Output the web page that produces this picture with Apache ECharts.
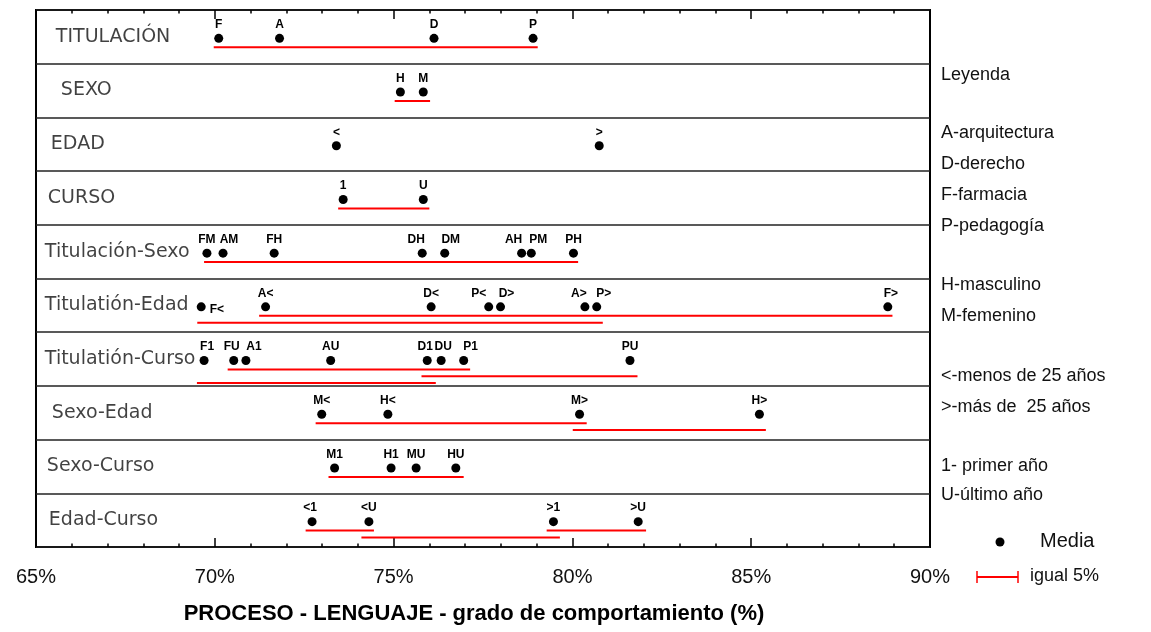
<!DOCTYPE html>
<html>
<head>
<meta charset="utf-8">
<script src="https://cdn.jsdelivr.net/npm/echarts@6/dist/echarts.min.js"></script>
<style>html,body{margin:0;padding:0;background:#fff;}#c{width:1151px;height:632px;}</style>
</head>
<body>
<div id="c"></div>
<script>
// ---------- DATA ----------
const rowNames = ['TITULACIÓN','SEXO','EDAD','CURSO','Titulación-Sexo','Titulatión-Edad','Titulatión-Curso','Sexo-Edad','Sexo-Curso','Edad-Curso'];
const groupLabels = [
  ['F','A','D','P'],
  ['H','M'],
  ['<','>'],
  ['1','U'],
  ['FM','AM','FH','DH','DM','AH','PM','PH'],
  ['F<','A<','D<','P<','D>','A>','P>','F>'],
  ['F1','FU','A1','AU','D1','DU','P1','PU'],
  ['M<','H<','M>','H>'],
  ['M1','H1','MU','HU'],
  ['<1','<U','>1','>U']
];
const groupMeans = [
  [70.11, 71.81, 76.13, 78.90],
  [75.19, 75.83],
  [73.40, 80.75],
  [73.59, 75.83],
  [69.78, 70.23, 71.66, 75.80, 76.43, 78.58, 78.85, 80.03],
  [69.62, 71.42, 76.05, 77.66, 77.99, 80.35, 80.68, 88.82],
  [69.70, 70.53, 70.87, 73.24, 75.94, 76.33, 76.96, 81.61],
  [72.99, 74.84, 80.20, 85.23],
  [73.35, 74.93, 75.63, 76.74],
  [72.72, 74.31, 79.47, 81.84]
];
// homogeneous groups (igual 5%): [row, start, end, level]
const equalRanges = [
  [0, 69.97, 79.03, 0],
  [1, 75.03, 76.02, 0],
  [3, 73.45, 76.00, 0],
  [4, 69.70, 80.16, 0],
  [5, 71.24, 88.95, 0],
  [5, 69.51, 80.85, 1],
  [6, 70.36, 77.14, 0],
  [6, 75.78, 81.82, 1],
  [6, 69.50, 76.18, 2],
  [7, 72.82, 80.40, 0],
  [7, 80.01, 85.41, 1],
  [8, 73.18, 76.96, 0],
  [9, 72.54, 74.45, 0],
  [9, 74.10, 79.65, 1],
  [9, 79.28, 82.06, 0]
];
const xTicks = [65, 70, 75, 80, 85, 90];
const legendLines = ['Leyenda','A-arquitectura','D-derecho','F-farmacia','P-pedagogía','H-masculino','M-femenino','<-menos de 25 años','>-más de  25 años','1- primer año','U-último año'];
const legendMedia = 'Media';
const legendEqual = 'igual 5%';
const xTitle = 'PROCESO - LENGUAJE - grado de comportamiento (%)';

// ---------- STYLE ----------
const rowLabelPad = [19, 24, 14, 11, 8, 8, 8, 15, 10, 12];
const labelShift = {'AM':6,'DH':-6,'DM':6,'AH':-8,'PM':7,'P<':-10,'D>':6,'A>':-6,'P>':7,'F>':3,'F1':3,'FU':-2,'A1':8,'D1':-2,'DU':2,'P1':7,'<1':-2};
const levelOffset = [0.195, 0.322, 0.447];
const dotOffset = 0.028;
const legendY = [75, 133, 164, 195, 226, 285, 316, 376, 407, 466, 495];
const sans = '"Liberation Sans",Arial,sans-serif';

const chart = echarts.init(document.getElementById('c'), null, {renderer: 'canvas'});

const series = [];
// row names
series.push({
  type: 'scatter', silent: true, symbolSize: 1, itemStyle: {color: 'rgba(0,0,0,0)'},
  data: rowNames.map((n, i) => ({value: [65.01, i + 0.5], name: n,
    label: {offset: [rowLabelPad[i], 0]}})),
  label: {show: true, position: 'right', distance: 0, formatter: p => p.name,
    fontFamily: '"DejaVu Sans",sans-serif', fontSize: 19, color: '#111'}
});
// means
groupMeans.forEach((vals, r) => {
  series.push({
    type: 'scatter', silent: true, symbol: 'circle', symbolSize: 9,
    itemStyle: {color: '#000', opacity: 1}, z: 5,
    data: vals.map((v, k) => {
      const lab = groupLabels[r][k];
      const item = {value: [v, r + 0.5 + dotOffset], name: lab};
      if (lab === 'F<') {
        item.label = {position: 'right', distance: 4, offset: [0, 3]};
      } else if (labelShift[lab] !== undefined) {
        item.label = {offset: [labelShift[lab], 0]};
      }
      return item;
    }),
    label: {show: true, position: 'top', distance: 3, formatter: p => p.name,
      fontFamily: sans, fontWeight: 'bold', fontSize: 12, color: '#000'}
  });
});
// equal ranges
equalRanges.forEach(([r, s, e, lvl]) => {
  const y = r + 0.5 + levelOffset[lvl];
  series.push({
    type: 'line', silent: true, symbol: 'none', z: 3,
    lineStyle: {color: '#ff0000', width: 2},
    data: [[s, y], [e, y]]
  });
});

const graphic = [];
legendLines.forEach((t, i) => {
  graphic.push({type: 'text', left: 941, top: legendY[i] - 9,
    style: {text: t, fontFamily: sans, fontSize: 18, fill: '#111'}});
});
graphic.push({type: 'circle', shape: {cx: 1000, cy: 542, r: 4.5}, style: {fill: '#000'}});
graphic.push({type: 'text', left: 1040, top: 531,
  style: {text: legendMedia, fontFamily: sans, fontSize: 20, fill: '#111'}});
graphic.push({type: 'polyline', shape: {points: [[977, 571], [977, 583]]}, style: {stroke: '#ff0000', lineWidth: 1.5}});
graphic.push({type: 'polyline', shape: {points: [[1018, 571], [1018, 583]]}, style: {stroke: '#ff0000', lineWidth: 1.5}});
graphic.push({type: 'polyline', shape: {points: [[977, 577], [1018, 577]]}, style: {stroke: '#ff0000', lineWidth: 2}});
graphic.push({type: 'text', left: 1030, top: 567,
  style: {text: legendEqual, fontFamily: sans, fontSize: 18, fill: '#111'}});

const xCommon = {
  type: 'value', min: xTicks[0], max: xTicks[xTicks.length - 1], interval: 5,
  axisLine: {show: false, onZero: false},
  axisTick: {show: true, inside: true, length: 9, lineStyle: {color: '#000', width: 1.5}},
  minorTick: {show: true, splitNumber: 5, length: 3.5, lineStyle: {color: '#000', width: 1.5}},
  splitLine: {show: false}
};

chart.setOption({
  animation: false,
  backgroundColor: '#fff',
  grid: {left: 36, right: 221, top: 10, bottom: 85, show: true, borderColor: '#000', borderWidth: 2, backgroundColor: 'transparent'},
  xAxis: [
    Object.assign({}, xCommon, {position: 'bottom',
      axisLabel: {show: true, margin: 20, formatter: '{value}%', fontFamily: sans, fontSize: 20, color: '#111'},
      name: xTitle, nameLocation: 'middle', nameGap: 56,
      nameTextStyle: {fontFamily: sans, fontWeight: 'bold', fontSize: 22, color: '#000', padding: [0, 18, 0, 0]}}),
    Object.assign({}, xCommon, {position: 'top', axisLabel: {show: false}})
  ],
  yAxis: {type: 'value', min: 0, max: 10, interval: 1, inverse: true,
    axisLine: {show: false, onZero: false}, axisTick: {show: false}, axisLabel: {show: false},
    splitLine: {show: true, lineStyle: {color: '#222', width: 1.5}}},
  series: series,
  graphic: graphic
});
</script>
</body>
</html>
